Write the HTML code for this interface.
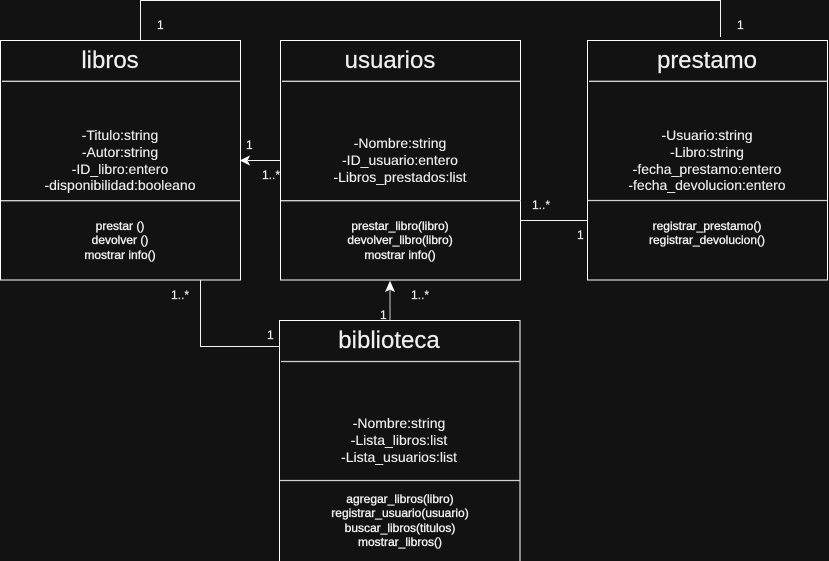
<!DOCTYPE html>
<html>
<head>
<meta charset="utf-8">
<style>
html,body{margin:0;padding:0;background:#121212;width:829px;height:561px;overflow:hidden}
svg{display:block}
text{font-family:"Liberation Sans",sans-serif;fill:#f0f0f0}
.t{font-size:24px;text-anchor:middle;stroke:#f0f0f0;stroke-width:.2px}
.a{font-size:14px;text-anchor:middle;stroke:#f0f0f0;stroke-width:.12px}
.m{font-size:12px;text-anchor:middle;stroke:#f0f0f0;stroke-width:.35px}
.l{font-size:12px;stroke:#f0f0f0;stroke-width:.15px}
.b{fill:#121212;stroke:#fff;stroke-width:1}
.s{stroke:#d0d0d0;stroke-width:1.3;fill:none}
.c{stroke:#f4f4f4;stroke-width:1;fill:none}
</style>
</head>
<body>
<svg width="829" height="561" viewBox="0 0 829 561">
<rect width="829" height="561" fill="#121212"/>

<path class="c" d="M140.5 40V0.5H720.5V37"/>
<path class="c" d="M280 160.5H248"/>
<path d="M241 160.5L249 156.5L247 160.5L249 164.5Z" fill="#fff" stroke="#fff"/>
<path class="c" d="M200.5 280V346.5H280"/>
<path class="c" d="M390 320V290" style="stroke:#ccc"/>
<path d="M390 282L394 291L390 289L386 291Z" fill="#fff" stroke="#fff"/>
<path class="c" d="M520 220.5H587"/>

<g>
<rect class="b" x="0.5" y="40.5" width="240" height="239.5"/>
<path class="s" d="M2 81.3H240"/>
<path class="s" d="M1 200.7H240"/>
<text class="t" x="110" y="68">libros</text>
<g>
<text class="a" x="120" y="140">-Titulo:string</text>
<text class="a" x="120" y="157">-Autor:string</text>
<text class="a" x="120" y="174">-ID_libro:entero</text>
<text class="a" x="120" y="190">-disponibilidad:booleano</text>
</g>
<g>
<text class="m" x="120" y="230">prestar ()</text>
<text class="m" x="120" y="244">devolver ()</text>
<text class="m" x="120" y="259">mostrar info()</text>
</g>
</g>

<g>
<rect class="b" x="280.5" y="40.5" width="240" height="239.5"/>
<path class="s" d="M282 81.3H520"/>
<path class="s" d="M281 200.7H521"/>
<text class="t" x="390" y="68">usuarios</text>
<g>
<text class="a" x="400" y="148">-Nombre:string</text>
<text class="a" x="400" y="165">-ID_usuario:entero</text>
<text class="a" x="400" y="182">-Libros_prestados:list</text>
</g>
<g>
<text class="m" x="400" y="230">prestar_libro(libro)</text>
<text class="m" x="400" y="244">devolver_libro(libro)</text>
<text class="m" x="400" y="259">mostrar info()</text>
</g>
</g>

<g>
<rect class="b" x="587.5" y="40.5" width="240" height="239.5"/>
<path class="s" d="M589 81.3H827"/>
<path class="s" d="M588 200.5H827"/>
<text class="t" x="707" y="68">prestamo</text>
<g>
<text class="a" x="707" y="140">-Usuario:string</text>
<text class="a" x="707" y="157">-Libro:string</text>
<text class="a" x="707" y="174">-fecha_prestamo:entero</text>
<text class="a" x="707" y="190">-fecha_devolucion:entero</text>
</g>
<g>
<text class="m" x="707" y="230">registrar_prestamo()</text>
<text class="m" x="707" y="244">registrar_devolucion()</text>
</g>
</g>

<g>
<rect class="b" x="279.5" y="320.5" width="240.5" height="245"/>
<path class="s" d="M281 361.5H520"/>
<path class="s" d="M280 480.5H520"/>
<text class="t" x="389" y="348">biblioteca</text>
<g>
<text class="a" x="399" y="428">-Nombre:string</text>
<text class="a" x="399" y="445">-Lista_libros:list</text>
<text class="a" x="399" y="462">-Lista_usuarios:list</text>
</g>
<g>
<text class="m" x="400" y="503">agregar_libros(libro)</text>
<text class="m" x="400" y="517">registrar_usuario(usuario)</text>
<text class="m" x="400" y="532">buscar_libros(titulos)</text>
<text class="m" x="400" y="546">mostrar_libros()</text>
</g>
</g>

<g>
<text class="l" x="157" y="29">1</text>
<text class="l" x="737" y="29">1</text>
<text class="l" x="246" y="149">1</text>
<text class="l" x="262" y="179">1..*</text>
<text class="l" x="532" y="209">1..*</text>
<text class="l" x="577" y="239">1</text>
<text class="l" x="171" y="299">1..*</text>
<text class="l" x="411" y="299">1..*</text>
<text class="l" x="267" y="339">1</text>
<text class="l" x="380" y="319">1</text>
</g>
</svg>
</body>
</html>
